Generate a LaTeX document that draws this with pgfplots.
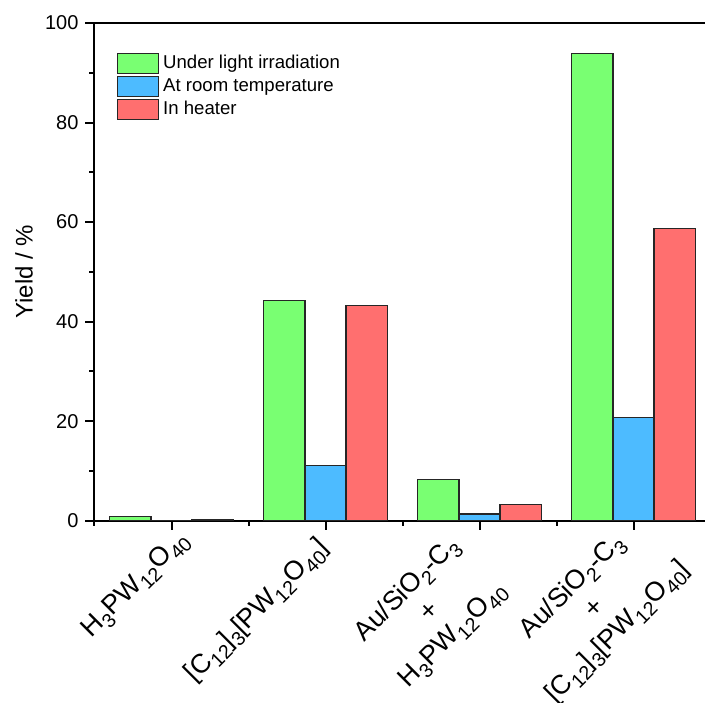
\documentclass[border=0pt]{standalone}
\usepackage{pgfplots}
\pgfplotsset{compat=1.18}
\usepackage{fontspec}
\setmainfont{Liberation Sans}
\definecolor{cgreen}{RGB}{121,255,114}
\definecolor{cblue}{RGB}{77,187,255}
\definecolor{cred}{RGB}{255,111,111}
\newcommand\sbs[1]{\raisebox{-0.25em}{\fontsize{9.8}{10}\selectfont #1}}
\pgfplotsset{boxlegend/.style={legend image code/.code={\draw[##1] (0pt,-5pt) rectangle (20.5pt,5pt);}}}
\begin{document}
\begin{tikzpicture}
\begin{axis}[
  name=ax,
  scale only axis,
  width=308pt, height=248.85pt,
  xmin=0.5, xmax=4.5, ymin=0, ymax=100,
  axis line style={line width=1pt},
  xtick={1,2,3,4},
  minor xtick={0.5,1.5,2.5,3.5},
  xticklabels={
    {H\sbs{3}PW\sbs{12}O\sbs{40}},
    {[C\sbs{12}]\sbs{3}[PW\sbs{12}O\sbs{40}]},
    {Au/SiO\sbs{2}-C\sbs{3}\\+\\H\sbs{3}PW\sbs{12}O\sbs{40}},
    {Au/SiO\sbs{2}-C\sbs{3}\\+\\{}[C\sbs{12}]\sbs{3}[PW\sbs{12}O\sbs{40}]}
  },
  ytick={0,20,40,60,80,100},
  minor ytick={10,30,50,70,90},
  xtick pos=left, ytick pos=left,
  tick align=outside,
  major tick length=4.5pt, minor tick length=2.5pt,
  every tick/.style={black, line width=1pt},
  /pgf/number format/assume math mode=true,
  yticklabel style={font=\fontsize{10}{12}\selectfont},
  xticklabel style={font=\fontsize{13.4}{16}\selectfont, align=center, anchor=center,
    xshift={{-17.75,-34,-24.5,-19}[\ticknum]*1pt},
    yshift={{-27.75,-40.75,-41.5,-40}[\ticknum]*1pt},
    rotate=45},
  ylabel={Yield / \%},
  every axis y label/.style={at={(rel axis cs:0,0.5)}, xshift=-35.25pt, rotate=90, anchor=center, font=\fontsize{12}{14}\selectfont},
  legend style={at={(axis description cs:0.0365,0.9437)}, anchor=north west, draw=none, fill=none,
    inner sep=0pt, outer sep=0pt, row sep=-0.5pt, font=\fontsize{9.3}{11}\selectfont,
    /tikz/every even column/.append style={column sep=3.5pt}},
  legend cell align=left,
]
\addplot[ybar, bar width=0.2667, bar shift=-0.2667, fill=cgreen, draw=black!85, line width=0.6pt, boxlegend]
  coordinates {(1,0.8) (2,44.3) (3,8.3) (4,93.9)};
\addlegendentry{Under light irradiation}
\addplot[ybar, bar width=0.2667, bar shift=0, fill=cblue, draw=black!85, line width=0.6pt, boxlegend]
  coordinates {(1,0.05) (2,11.1) (3,1.35) (4,20.8)};
\addlegendentry{At room temperature}
\addplot[ybar, bar width=0.2667, bar shift=0.2667, fill=cred, draw=black!85, line width=0.6pt, boxlegend]
  coordinates {(1,0.15) (2,43.3) (3,3.3) (4,58.7)};
\addlegendentry{In heater}
\end{axis}
\pgfresetboundingbox
\path[use as bounding box] ([shift={(-47.25pt,-90.65pt)}]ax.south west) rectangle ([shift={(305.25pt,11.5pt)}]ax.north west);
\end{tikzpicture}
\end{document}
